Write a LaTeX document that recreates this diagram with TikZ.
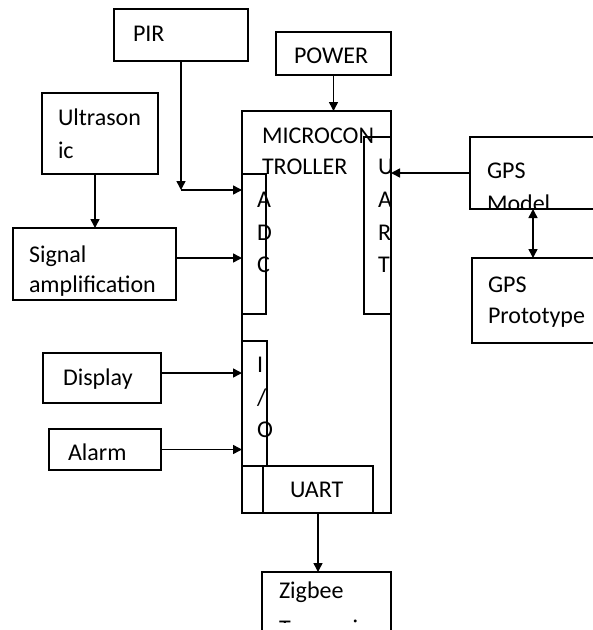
\documentclass[tikz,border=0pt]{standalone}
\usepackage{fontspec}
\setmainfont{Carlito}
\usetikzlibrary{arrows.meta}
\begin{document}
\begin{tikzpicture}[x=1pt,y=-1pt,
  box/.style={draw,line width=1.5pt,inner sep=0pt,outer sep=0pt},
  txt/.style={anchor=base west,inner sep=0pt,outer sep=0pt,text=black,font=\fontsize{24}{32}\selectfont},
  arr/.style={line width=1.5pt,-{Triangle[length=9pt,width=9pt]}},
  dbl/.style={line width=1.5pt,{Triangle[length=9pt,width=9pt]}-{Triangle[length=9pt,width=9pt]}}]
\useasboundingbox (0,0) rectangle (593,630);
\clip (0,0) rectangle (593,630);
% boxes
\node[box,minimum width=149pt,minimum height=402pt] (mcu) at (316.5,312) {};
\node[box,minimum width=24pt,minimum height=140pt] (adc) at (254,244) {};
\node[box,minimum width=27pt,minimum height=177pt] (uartr) at (377.5,225.5) {};
\node[box,minimum width=25pt,minimum height=125pt] (io) at (254.5,403.5) {};
\node[box,minimum width=110pt,minimum height=47pt] (uartb) at (318,489.5) {};
\node[box,minimum width=134pt,minimum height=52pt] (pir) at (181,35) {};
\node[box,minimum width=115pt,minimum height=43pt] (power) at (333.5,53.5) {};
\node[box,minimum width=116pt,minimum height=81pt] (ultra) at (100,133.5) {};
\node[box,minimum width=163pt,minimum height=72pt] (sig) at (94.5,264) {};
\node[box,minimum width=118pt,minimum height=50pt] (disp) at (102,378) {};
\node[box,minimum width=112pt,minimum height=41pt] (alarm) at (105,449.5) {};
\node[box,minimum width=130pt,minimum height=72pt] (gpsm) at (535,173) {};
\node[box,minimum width=128pt,minimum height=85pt] (gpsp) at (536,300.5) {};
\node[box,minimum width=129pt,minimum height=68pt] (zig) at (326.5,606) {};
% texts
\node[txt] (tpir) at (133,41) {PIR};
\node[txt] (tpow) at (294,63) {POWER};
\node[txt] (tul1) at (58,125) {Ultrason};
\node[txt] (tul2) at (58,158) {ic};
\node[txt] (tsg1) at (29,262) {Signal};
\node[txt] (tsg2) at (29,292) {amplification};
\node[txt] (tmc1) at (262,143) {MICROCON};
\node[txt] (tmc2) at (262,174) {TROLLER};
\node[txt] (ta1) at (257,207) {A};
\node[txt] (ta2) at (257,240) {D};
\node[txt] (ta3) at (257,272) {C};
\node[txt] (tu1) at (378,174) {U};
\node[txt] (tu2) at (378,207) {A};
\node[txt] (tu3) at (378,240) {R};
\node[txt] (tu4) at (378,272) {T};
\node[txt] (tg1) at (487,178) {GPS};
\begin{scope}
\clip (gpsm.south west) rectangle (gpsm.north east);
\node[txt] (tg2) at (487,211) {Model};
\end{scope}
\node[txt] (tp1) at (488,292) {GPS};
\node[txt] (tp2) at (488,323) {Prototype};
\node[txt] (ti1) at (257,372) {I};
\node[txt] (ti2) at (257,405) {/};
\node[txt] (ti3) at (257,437) {O};
\node[txt] (tdis) at (63,385) {Display};
\node[txt] (talm) at (68,460) {Alarm};
\node[txt] (tuab) at (290,497) {UART};
\node[txt] (tzg1) at (279,598) {Zigbee};
\begin{scope}
\clip (262,560) rectangle (391,622);
\node[txt] (tzg2) at (279,636) {Transceiver};
\end{scope}
% connectors
\coordinate (pirbend) at (182,190);
\draw[arr] ([xshift=-5pt]ultra.south) -- ([xshift=-5pt]ultra.south |- sig.north);
\draw[arr] (pir.south) -- (pir.south |- pirbend);
\draw[arr] (pir.south |- pirbend) -- (pirbend -| adc.west);
\draw[arr] ([yshift=6pt]sig.east) -- ([yshift=6pt]sig.east -| adc.west);
\draw[arr] (power.south) -- (power.south |- mcu.north);
\draw[arr] (gpsm.west) -- (gpsm.west -| uartr.east);
\draw[dbl] ([xshift=-2pt]gpsm.south) -- ([xshift=-2pt]gpsm.south |- gpsp.north);
\draw[arr] ([yshift=5pt]disp.east) -- ([yshift=5pt]disp.east -| io.west);
\draw[arr] (alarm.east) -- (alarm.east -| io.west);
\draw[arr] (uartb.south) -- (uartb.south |- zig.north);
\end{tikzpicture}
\end{document}
